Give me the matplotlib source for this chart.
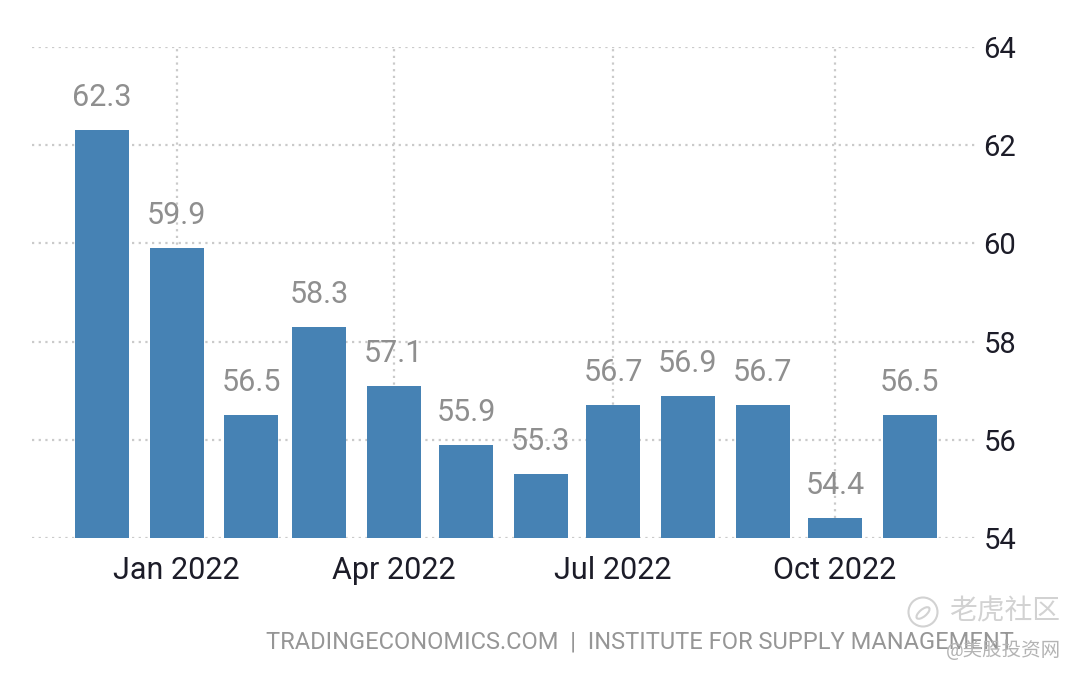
import matplotlib
matplotlib.use("Agg")
from matplotlib import pyplot as plt
from matplotlib.patches import Circle, Ellipse
import datetime as dt

plt.rcParams['font.family'] = ['Roboto', 'Noto Sans CJK SC', 'DejaVu Sans']

months = ["2021-12-01", "2022-01-01", "2022-02-01", "2022-03-01", "2022-04-01", "2022-05-01",
          "2022-06-01", "2022-07-01", "2022-08-01", "2022-09-01", "2022-10-01", "2022-11-01"]
values = [62.3, 59.9, 56.5, 58.3, 57.1, 55.9, 55.3, 56.7, 56.9, 56.7, 54.4, 56.5]
yticks = [54, 56, 58, 60, 62, 64]
xtick_dates = ["2022-01-01", "2022-04-01", "2022-07-01", "2022-10-01"]
xtick_labels = ["Jan 2022", "Apr 2022", "Jul 2022", "Oct 2022"]

dates = [dt.date.fromisoformat(m) for m in months]
xt = [dt.date.fromisoformat(m) for m in xtick_dates]

fig = plt.figure(figsize=(10.8, 6.75), dpi=100)
ax = fig.add_axes([32/1080, 1-538/675, (975-32)/1080, (538-47)/675])

ax.bar(dates, values, width=22.4, color="#4682b4", zorder=3)
for d, v in zip(dates, values):
    ax.annotate(f"{v}", (d, v), xytext=(0, 18), textcoords="offset pixels", ha="center", va="bottom",
                fontsize=22, color="#8f8f8f", zorder=4)

ax.set_ylim(54, 64)
ax.set_xlim(dt.date(2021, 11, 2), dt.date(2022, 11, 28))
ax.set_yticks(yticks)
ax.set_xticks(xt)
ax.set_xticklabels(xtick_labels)
ax.yaxis.tick_right()
ax.grid(True, color="#cacaca", linestyle=(0, (1, 2)), linewidth=1.6, zorder=0)
for s in ax.spines.values():
    s.set_visible(False)
ax.tick_params(axis="both", length=0, labelsize=21, labelcolor="#1c1c28")
ax.tick_params(axis="x", labelsize=22, pad=13)
ax.tick_params(axis="y", pad=6)

fig.text(640/1080, 1-642/675, "TRADINGECONOMICS.COM  |  INSTITUTE FOR SUPPLY MANAGEMENT",
         ha="center", va="center", fontsize=17, color="#969696")

# watermark
fig.add_artist(Circle((9.23, 0.63), 0.145, transform=fig.dpi_scale_trans, fill=False,
                      edgecolor="#d2d2d2", linewidth=1.5))
fig.add_artist(Ellipse((9.23, 0.62), 0.16, 0.07, angle=40, transform=fig.dpi_scale_trans, fill=False,
                       edgecolor="#d2d2d2", linewidth=1.5))
fig.text(1005/1080, 1-612/675, "老虎社区", ha="center", va="center", fontsize=20, color="#d2d2d2")
fig.text(1003/1080, 1-650/675, "@美股投资网", ha="center", va="center", fontsize=14, color="#b4b4b4")

fig.savefig("out.png", dpi=100)
